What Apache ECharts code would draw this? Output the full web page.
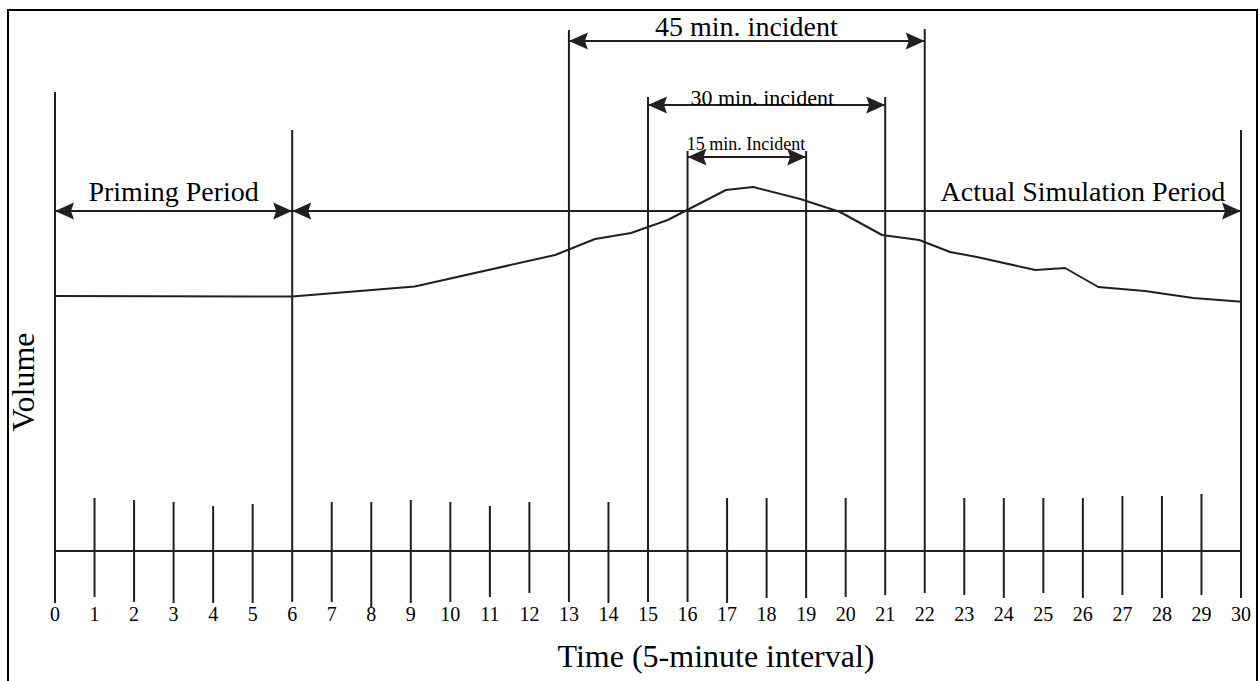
<!DOCTYPE html>
<html>
<head>
<meta charset="utf-8">
<script src="https://cdn.jsdelivr.net/npm/echarts@6/dist/echarts.min.js"></script>
<style>
html,body{margin:0;padding:0;background:#fff;}
#chart{width:1260px;height:681px;}
</style>
</head>
<body>
<div id="chart"></div>
<script>
// ---- data ----
const tickLabels = ['0','1','2','3','4','5','6','7','8','9','10','11','12','13','14','15','16','17','18','19','20','21','22','23','24','25','26','27','28','29','30'];

// short tick marks on the time axis: position, top, bottom (volume units)
const shortTickX      = [1, 2, 3, 4, 5, 7, 8, 9, 10, 11, 12, 14, 17, 18, 20, 23, 24, 25, 26, 27, 28, 29];
const shortTickTop    = [10.6, 10.2, 9.8, 9, 9.4, 9.8, 9.8, 10.2, 9.8, 9, 9.8, 9.8, 10.6, 10.6, 10.6, 10.6, 10.6, 10.6, 10.6, 11, 11, 11.4];
const shortTickBottom = [-9.2, -10.2, -10.4, -10.4, -10.4, -10.2, -11.2, -10.4, -10.2, -9.2, -8.4, -10.4, -10.4, -9.4, -9.2, -8.8, -9.4, -8.4, -9.4, -8.8, -9.4, -8.8];

// long boundary lines
const boundaryX      = [0, 6, 13, 15, 16, 19, 21, 22, 30];
const boundaryTop    = [91.8, 84.2, 104.2, 90.8, 80, 80, 90.8, 104.4, 84.2];
const boundaryBottom = [-10.4, -10.2, -10.2, -10.2, -10.2, -9.4, -8.8, -8.4, -9.4];

// volume curve
const curveTime   = [0, 6, 9.1, 12.65, 13.66, 14.57, 15.5, 16.97, 17.66, 18.85, 19.86, 20.92, 21.86, 22.64, 23.32, 24.8, 25.55, 26.39, 27.57, 28.79, 30.1];
const curveVolume = [51, 50.9, 52.9, 59.2, 62.4, 63.6, 66.2, 72.2, 72.8, 70.4, 67.8, 63.2, 62.2, 59.8, 58.8, 56.2, 56.6, 52.8, 52, 50.6, 49.8];

// double-headed period arrows
const arrowStart = [0, 6, 13, 15, 16];
const arrowEnd   = [6, 30, 22, 21, 19];
const arrowLevel = [68, 68, 102, 89.2, 78.8];

// annotation texts
const noteText  = ['Priming Period', 'Actual Simulation Period', '45 min. incident', '30 min. incident', '15 min. Incident'];
const noteX     = [3, 26.0, 17.49, 17.89, 17.48];
const noteY     = [72, 72, 105, 90.8, 81.5];
const noteSize  = [28, 28, 28, 22, 18];

// ---- chart ----
const INK = '#231f20';
const FONT = '"Liberation Serif", "Times New Roman", serif';

const shortTicks = shortTickX.map((x, i) => [x, shortTickTop[i], shortTickBottom[i]]);
const boundaries = boundaryX.map((x, i) => [x, boundaryTop[i], boundaryBottom[i]]);
const curve = curveTime.map((t, i) => [t, curveVolume[i]]);
const arrows = arrowStart.map((s, i) => [s, arrowEnd[i], arrowLevel[i]]);
const notes = noteText.map((t, i) => [noteX[i], noteY[i], noteSize[i], t]);

function vLine(params, api) {
  const p1 = api.coord([api.value(0), api.value(1)]);
  const p2 = api.coord([api.value(0), api.value(2)]);
  return {
    type: 'line',
    shape: { x1: p1[0], y1: p1[1], x2: p2[0], y2: p2[1] },
    style: { stroke: INK, lineWidth: 2 }
  };
}

function head(tip, dir) {
  // dir = +1 : back of head lies to the right (head points left)
  const L = 19, W = 8.5, N = 16;
  return {
    type: 'polygon',
    shape: { points: [
      [tip[0], tip[1]],
      [tip[0] + dir * L, tip[1] - W],
      [tip[0] + dir * N, tip[1]],
      [tip[0] + dir * L, tip[1] + W]
    ] },
    style: { fill: INK }
  };
}

function arrow(params, api) {
  const a = api.coord([api.value(0), api.value(2)]);
  const b = api.coord([api.value(1), api.value(2)]);
  return {
    type: 'group',
    children: [
      { type: 'line', shape: { x1: a[0], y1: a[1], x2: b[0], y2: b[1] }, style: { stroke: INK, lineWidth: 2 } },
      head(a, 1),
      head(b, -1)
    ]
  };
}

function note(params, api) {
  const p = api.coord([api.value(0), api.value(1)]);
  const d = notes[params.dataIndex];
  return {
    type: 'text',
    x: p[0], y: p[1],
    style: {
      text: d[3],
      fill: '#000',
      font: d[2] + 'px ' + FONT,
      textAlign: 'center',
      textVerticalAlign: 'middle',
      align: 'center',
      verticalAlign: 'middle'
    }
  };
}

const chart = echarts.init(document.getElementById('chart'), null, { renderer: 'svg' });
chart.setOption({
  backgroundColor: '#fff',
  animation: false,
  grid: { left: 55, right: 19, top: 11, bottom: 130, containLabel: false, outerBoundsMode: 'none' },
  xAxis: {
    type: 'value', min: 0, max: 30, interval: 1, position: 'bottom',
    axisLine: { show: true, onZero: false, lineStyle: { color: INK, width: 2 } },
    axisTick: { show: false },
    splitLine: { show: false },
    axisLabel: {
      margin: 53, color: '#000', fontSize: 20, fontFamily: FONT,
      formatter: v => tickLabels[v]
    }
  },
  yAxis: {
    type: 'value', min: 0, max: 108, show: false,
    splitLine: { show: false }
  },
  graphic: [
    { type: 'rect', shape: { x: 8, y: 10, width: 1249, height: 690 }, style: { fill: 'none', stroke: '#000', lineWidth: 2 }, silent: true },
    { type: 'text', x: 23, y: 382, rotation: Math.PI / 2,
      style: { text: 'Volume', font: '32px ' + FONT, fill: '#000', textAlign: 'center', textVerticalAlign: 'middle', align: 'center', verticalAlign: 'middle' } },
    { type: 'text', x: 716, y: 656,
      style: { text: 'Time (5-minute interval)', font: '32px ' + FONT, fill: '#000', textAlign: 'center', textVerticalAlign: 'middle', align: 'center', verticalAlign: 'middle' } }
  ],
  series: [
    { type: 'custom', name: 'ticks', renderItem: vLine, data: shortTicks, clip: false, silent: true },
    { type: 'custom', name: 'boundaries', renderItem: vLine, data: boundaries, clip: false, silent: true },
    { type: 'line', name: 'Volume', data: curve, showSymbol: false, symbol: 'none', clip: false,
      lineStyle: { color: INK, width: 2 }, silent: true },
    { type: 'custom', name: 'arrows', renderItem: arrow, data: arrows, clip: false, silent: true },
    { type: 'custom', name: 'notes', renderItem: note, data: notes.map(n => [n[0], n[1]]), clip: false, silent: true }
  ]
});
</script>
</body>
</html>
